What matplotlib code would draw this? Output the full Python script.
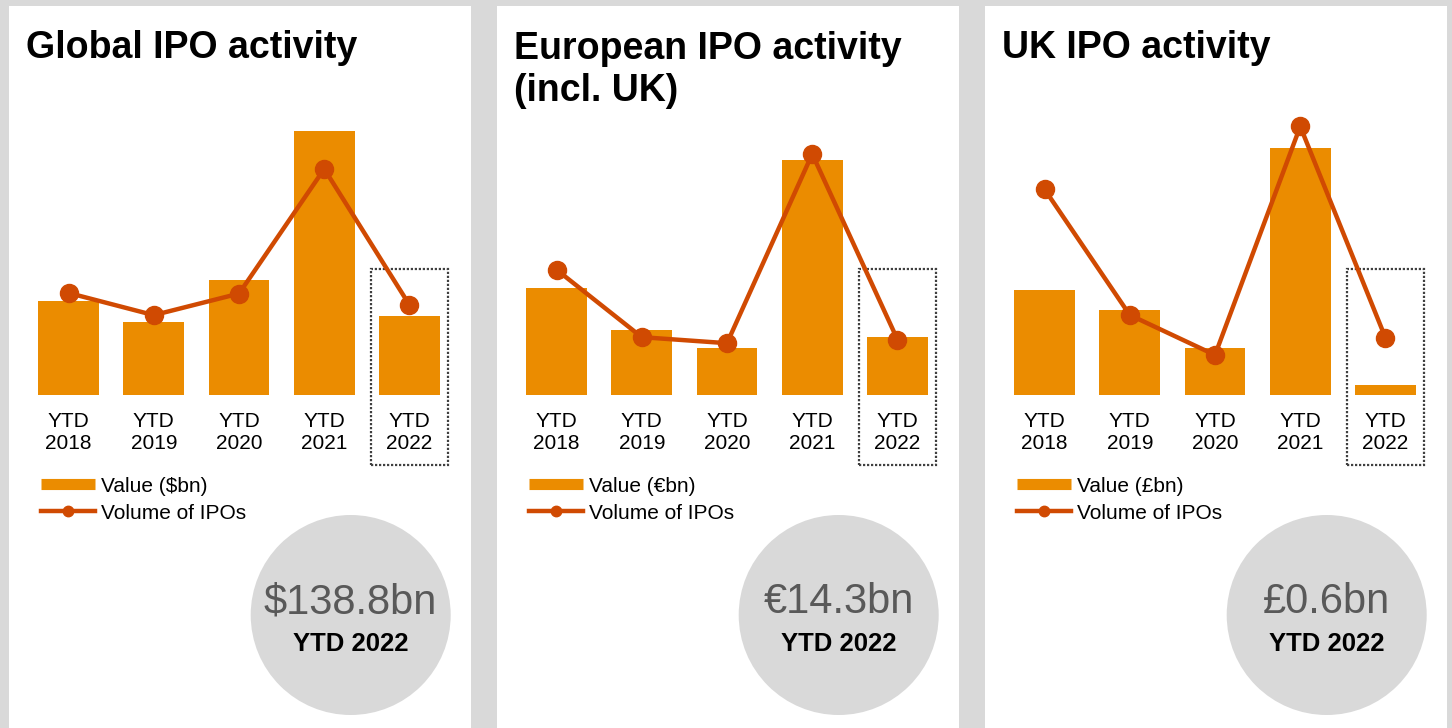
import matplotlib
matplotlib.use("Agg")
import matplotlib.pyplot as plt
from matplotlib.patches import Rectangle, Circle
from matplotlib.lines import Line2D
from matplotlib.transforms import blended_transform_factory

plt.rcParams['font.family'] = ['Liberation Sans', 'DejaVu Sans']

# data
years = ['YTD\n2018', 'YTD\n2019', 'YTD\n2020', 'YTD\n2021', 'YTD\n2022']

global_value = [165, 128, 202, 464, 138.8]      # $bn
global_volume = [483, 378, 480, 1070, 426]      # number of IPOs
europe_value = [26.4, 16.0, 11.6, 57.9, 14.3]   # EUR bn
europe_volume = [104, 48, 43, 200, 46]
uk_value = [6.3, 5.1, 2.8, 14.8, 0.6]           # GBP bn
uk_volume = [36, 14, 7, 47, 10]

titles = ['Global IPO activity', 'European IPO activity\n(incl. UK)', 'UK IPO activity']
value_labels = ['Value (\\$bn)', 'Value (€bn)', 'Value (£bn)']
headlines = ['\\$138.8bn', '€14.3bn', '£0.6bn']

BG = '#d9d9d9'
BAR = '#eb8c00'
LINE = '#d04a02'
W, H = 1452, 728


def px(x, y):
    # pixel position (top-left origin) -> inches for dpi_scale_trans
    return x / 100, (H - y) / 100


fig = plt.figure(figsize=(W / 100, H / 100), dpi=100, facecolor=BG)
tr = fig.dpi_scale_trans

panels = [
    (global_value, global_volume, 527, 1420),
    (europe_value, europe_volume, 74, 249),
    (uk_value, uk_volume, 18, 52.5),
]

for i, (values, volumes, vmax, nmax) in enumerate(panels):
    off = 488 * i
    left = 9 + off

    fig.add_artist(Rectangle(px(left, H), 4.62, 7.22, transform=tr,
                             facecolor='white', edgecolor='none', zorder=-2))

    # baseline of the last title line
    n_lines = titles[i].count('\n')
    fig.text(*px(left + 17, 58 + 43 * n_lines), titles[i], transform=tr,
             fontsize=27, fontweight='bold', va='baseline', ha='left',
             linespacing=1.23)

    ax = fig.add_axes([(off + 25.9) / W, (H - 395) / H, 426.2 / W, 300 / H])
    ax.patch.set_visible(False)
    ax.bar(range(5), values, width=0.715, color=BAR)
    ax.set_xlim(-0.5, 4.5)
    ax.set_ylim(0, vmax)
    ax.set_yticks([])
    ax.set_xticks(range(5), years)
    ax.tick_params(axis='x', length=0, pad=12, labelsize=15)
    for lbl in ax.get_xticklabels():
        lbl.set_linespacing(1.25)
    for s in ax.spines.values():
        s.set_visible(False)

    box_tr = blended_transform_factory(ax.transData, ax.transAxes)
    ax.add_patch(Rectangle((3.548, -0.233), 0.9, 0.653, transform=box_tr,
                           fill=False, edgecolor='#404040', linewidth=1.6,
                           linestyle=(0, (1, 0.8)), clip_on=False))

    ax2 = ax.twinx()
    ax2.plot(range(5), volumes, color=LINE, linewidth=3.2, marker='o',
             markersize=13)
    ax2.set_ylim(0, nmax)
    ax2.set_yticks([])
    for s in ax2.spines.values():
        s.set_visible(False)

    handles = [Line2D([], [], color=BAR, linewidth=8, solid_capstyle='butt'),
               Line2D([], [], color=LINE, linewidth=3.2, marker='o', markersize=7.5)]
    fig.legend(handles, [value_labels[i], 'Volume of IPOs'], loc='upper left',
               bbox_to_anchor=px(off + 41, 476.5), bbox_transform=tr,
               frameon=False, fontsize=15, handlelength=2.6,
               handletextpad=0.3, labelspacing=0.39, borderpad=0,
               borderaxespad=0)

    cx = 350.7 + off
    fig.add_artist(Circle(px(cx, 615), 1.0, transform=tr, facecolor=BG,
                          edgecolor='none', zorder=-1))
    fig.text(*px(cx, 613), headlines[i], transform=tr, fontsize=30,
             color='#595959', ha='center', va='baseline')
    fig.text(*px(cx, 651), 'YTD 2022', transform=tr, fontsize=18.5,
             fontweight='bold', ha='center', va='baseline')

fig.savefig('out.png', dpi=100, facecolor=BG)
